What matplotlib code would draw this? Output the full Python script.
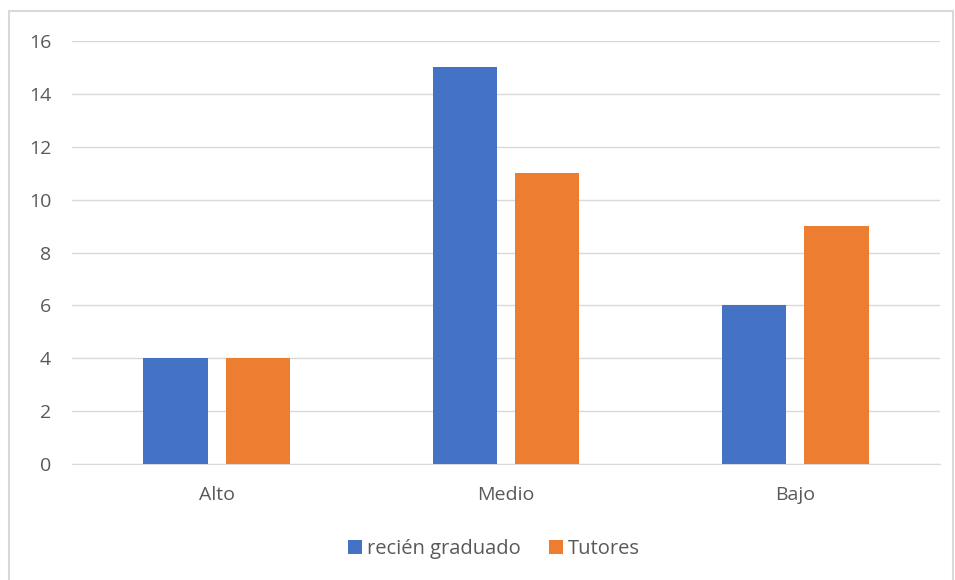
import numpy as np
import matplotlib
matplotlib.use("Agg")
import matplotlib.pyplot as plt
from matplotlib.patches import Rectangle

categories = ["Alto", "Medio", "Bajo"]
recien_graduado = [4, 15, 6]
tutores = [4, 11, 9]
series_names = ["recién graduado", "Tutores"]

BLUE = "#4472C4"
ORANGE = "#ED7D31"
GRID = "#D9D9D9"
TEXT = "#595959"

plt.rcParams["font.family"] = ["Open Sans", "DejaVu Sans"]

fig = plt.figure(figsize=(9.55, 5.80), dpi=100)
ax = fig.add_axes([72 / 955, 1 - 464 / 580, (940 - 72) / 955, (464 - 41) / 580])

# light frame around the chart area
fig.patches.append(Rectangle((9 / 955, -0.01), (953 - 9) / 955, 1 - 11 / 580 + 0.01,
                             transform=fig.transFigure, fill=False,
                             ec=GRID, lw=1.5))

x = np.arange(len(categories))
w = 0.222
off = 0.142
ax.bar(x - off, recien_graduado, w, color=BLUE, label=series_names[0], zorder=3)
ax.bar(x + off, tutores, w, color=ORANGE, label=series_names[1], zorder=3)

ax.set_xlim(-0.5, len(categories) - 0.5)
ax.set_ylim(0, 16)
ax.set_yticks(range(0, 17, 2))
ax.set_xticks(x)
ax.set_xticklabels(categories)
ax.yaxis.grid(True, color=GRID, lw=1.0, zorder=0)
ax.set_axisbelow(True)
for s in ("top", "right", "left"):
    ax.spines[s].set_visible(False)
ax.spines["bottom"].set_color(GRID)
ax.tick_params(axis="both", length=0, colors=TEXT, labelsize=14)
ax.tick_params(axis="y", pad=15)
ax.tick_params(axis="x", pad=16)

fig.legend(loc="center", bbox_to_anchor=(494 / 955, 1 - 549 / 580), ncol=2,
           frameon=False, fontsize=14.5, labelcolor=TEXT,
           handlelength=0.7, handleheight=0.7, handletextpad=0.25,
           columnspacing=1.4)

fig.savefig("out.png", dpi=100)
